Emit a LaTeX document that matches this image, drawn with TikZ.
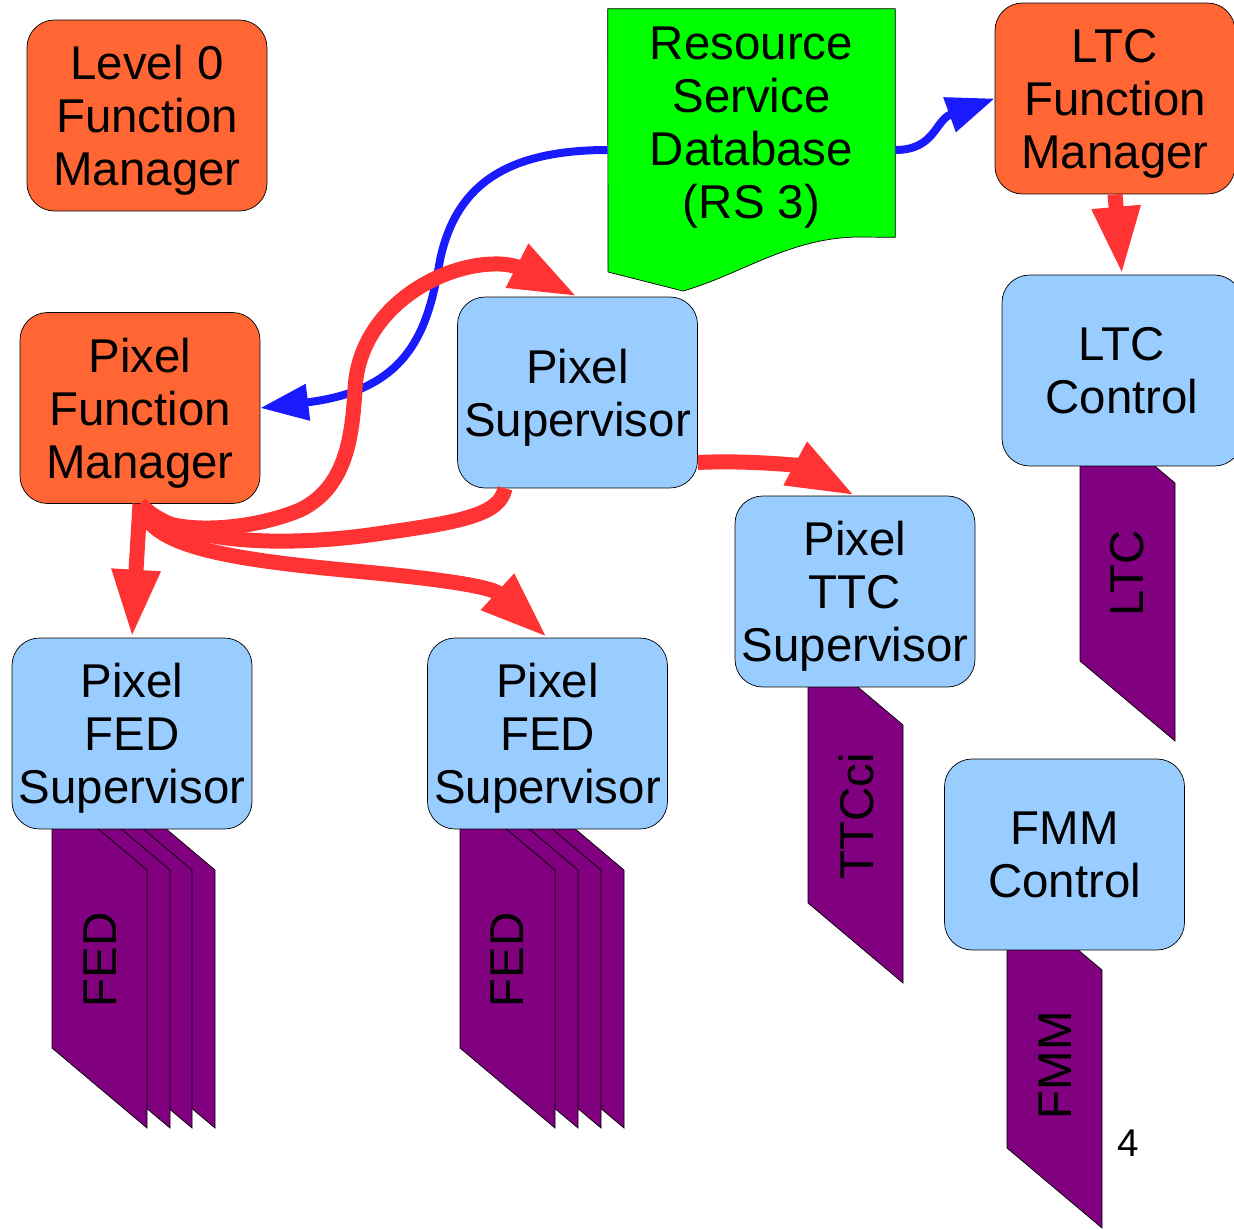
\documentclass[tikz,border=0pt]{standalone}
\usepackage{fontspec}
\setmainfont{Liberation Sans}
\usetikzlibrary{arrows.meta,backgrounds}

\definecolor{fmorange}{HTML}{FF6633}
\definecolor{supblue}{HTML}{99CCFF}
\definecolor{dbgreen}{HTML}{00FF00}
\definecolor{hwpurple}{HTML}{800080}
\definecolor{ctrlred}{HTML}{FF3333}
\definecolor{cfgblue}{HTML}{1A1AFF}

\tikzset{
  fnbox/.style={draw=black, thin, rounded corners=0.55cm, minimum width=4.8cm,
    minimum height=3.82cm, inner sep=1pt, align=center, text depth=0pt,
    font=\fontsize{27}{30.2}\selectfont},
  fmbox/.style={fnbox, fill=fmorange},
  supbox/.style={fnbox, fill=supblue},
  hwcard/.style={draw=black, thin, fill=hwpurple},
  hwlabel/.style={rotate=90, inner sep=0pt, font=\fontsize{27}{30.2}\selectfont},
  ctrlline/.style={ctrlred, line width=0.3cm},
  ctrlarrow/.style={ctrlline, -{Triangle[length=1.36cm, width=0.9cm]}},
  cfgarrow/.style={cfgblue, line width=0.16cm, -{Triangle[length=0.96cm, width=0.7cm]}},
}

\begin{document}
\begin{tikzpicture}[x=0.02cm, y=-0.02cm]
    \clip (0,0) rectangle (1234,1230);

    % Function managers
    \node[fmbox] (l0fm) at (147,115.5) {Level 0\\Function\\Manager};
    \node[fmbox] (ltcfm) at (1115,98.5) {LTC\\Function\\Manager};
    \node[fmbox] (pfm) at (140,408) {Pixel\\Function\\Manager};

    % Resource service database
    \node[align=center, inner sep=0pt, minimum width=5.74cm, minimum height=4.56cm,
      text depth=0pt, font=\fontsize{27}{30.2}\selectfont] (rsdb) at (751.5,123)
      {Resource\\Service\\Database\\(RS 3)};

    % Supervisors
    \node[supbox] (ltcctl) at (1122,370.5) {LTC\\Control};
    \node[supbox] (psup) at (577.5,392.5) {Pixel\\Supervisor};
    \node[supbox] (pttc) at (855,591.5) {Pixel\\TTC\\Supervisor};
    \node[supbox] (fedsupA) at (132,733.5) {Pixel\\FED\\Supervisor};
    \node[supbox] (fedsupB) at (547.5,733.5) {Pixel\\FED\\Supervisor};
    \node[supbox] (fmmctl) at (1064.5,854.5) {FMM\\Control};

    % Hardware cards, behind the boxes
    \begin{scope}[on background layer]
        \draw[thin, fill=dbgreen] (rsdb.north west) -- (rsdb.north east) -- (rsdb.south east)
            -- (860,237) .. controls (790,237) and (740,275) .. (683,291) -- (608,272) -- cycle;
        \foreach \x in {120,97,75,52}
            \draw[hwcard] (\x,790) -- ++(95,80) -- ++(0,258) -- ++(-95,-80) -- cycle;
        \foreach \x in {529,506,483,460}
            \draw[hwcard] (\x,790) -- ++(95,80) -- ++(0,258) -- ++(-95,-80) -- cycle;
        \draw[hwcard] (808,645) -- ++(95,80) -- ++(0,258) -- ++(-95,-80) -- cycle;
        \draw[hwcard] (1080,403) -- ++(95,80) -- ++(0,258) -- ++(-95,-80) -- cycle;
        \draw[hwcard] (1007,890) -- ++(95,80) -- ++(0,258) -- ++(-95,-80) -- cycle;
    \end{scope}
    \node[hwlabel] (fedA) at (100,960) {FED};
    \node[hwlabel] (fedB) at (507,960) {FED};
    \node[hwlabel] (ttcci) at (857,816) {TTCci};
    \node[hwlabel] (ltc) at (1127,573) {LTC};
    \node[hwlabel] (fmm) at (1055,1065) {FMM};

    % Configuration from the database
    \draw[cfgarrow] ([yshift=-0.54cm]rsdb.west) .. controls (500,150) and (455,190) .. (440,260)
        .. controls (428,330) and (410,390) .. (pfm.east);
    \draw[cfgarrow] ([yshift=-0.54cm]rsdb.east) .. controls (935,150) and (935,120) .. (ltcfm.west);

    % Control flow
    \draw[ctrlarrow] (pfm.south) -- (fedsupA.north);
    \draw[ctrlarrow] (pfm.south) .. controls (148,545) and (220,558) .. (344,570)
        .. controls (420,577) and (490,585) .. (fedsupB.north);
    \draw[ctrlline] ([xshift=-1.45cm]psup.south) .. controls (500,515) and (460,522) .. (383,533)
        .. controls (300,546) and (180,548) .. (pfm.south);
    \draw[ctrlarrow] (pfm.south) .. controls (150,535) and (240,535) .. (300,510)
        .. controls (345,488) and (352,440) .. (355,390)
        .. controls (358,310) and (440,262) .. (500,264)
        .. controls (525,265) and (545,280) .. (psup.north);
    \draw[ctrlarrow] ([yshift=-1.4cm]psup.east) .. controls (750,460) and (800,466) .. (pttc.north);
    \draw[ctrlarrow] (ltcfm.south) -- (ltcctl.north);

    \node[font=\fontsize{22}{26}\selectfont] (pagenum) at (1128,1143) {4};
\end{tikzpicture}
\end{document}
